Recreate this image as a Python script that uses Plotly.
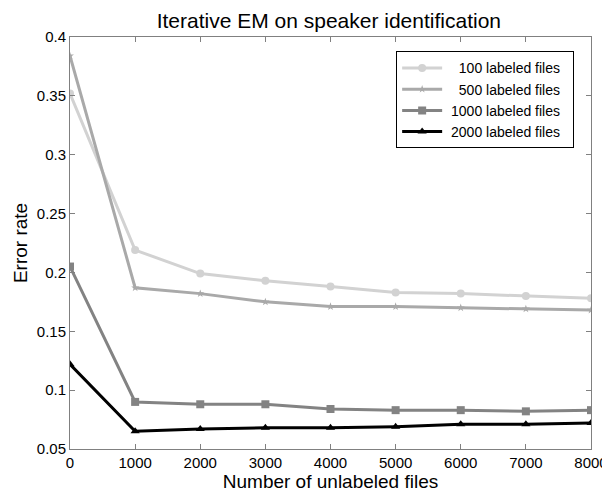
import plotly.graph_objects as go

x_unlabeled = [0, 1000, 2000, 3000, 4000, 5000, 6000, 7000, 8000]
err_100 = [0.352, 0.219, 0.199, 0.193, 0.188, 0.183, 0.182, 0.180, 0.178]
err_500 = [0.384, 0.187, 0.182, 0.175, 0.171, 0.171, 0.170, 0.169, 0.168]
err_1000 = [0.205, 0.090, 0.088, 0.088, 0.084, 0.083, 0.083, 0.082, 0.083]
err_2000 = [0.122, 0.065, 0.067, 0.068, 0.068, 0.069, 0.071, 0.071, 0.072]
series_names = ["   100 labeled files  ", "   500 labeled files  ", " 1000 labeled files  ", " 2000 labeled files  "]
y_ticks = [0.05, 0.1, 0.15, 0.2, 0.25, 0.3, 0.35, 0.4]
y_tick_text = ["0.05", "0.1", "0.15", "0.2", "0.25", "0.3", "0.35", "0.4"]
x_ticks = [0, 1000, 2000, 3000, 4000, 5000, 6000, 7000, 8000]

FONT = "Liberation Sans, Arial, sans-serif"

styles = [
    dict(color="#d2d2d2", symbol="circle", size=8),
    dict(color="#a9a9a9", symbol="star", size=6),
    dict(color="#838383", symbol="square", size=8),
    dict(color="#000000", symbol="triangle-up", size=8),
]

fig = go.Figure()
for name, ys, st in zip(series_names, [err_100, err_500, err_1000, err_2000], styles):
    fig.add_trace(go.Scatter(
        x=x_unlabeled, y=ys, name=name, mode="lines+markers",
        line=dict(color=st["color"], width=3),
        marker=dict(color=st["color"], symbol=st["symbol"], size=st["size"]),
    ))

axis_common = dict(
    showline=True, linecolor="#808080", linewidth=1, mirror="ticks",
    ticks="inside", ticklen=5, tickcolor="#808080",
    showgrid=False, zeroline=False, automargin=False,
    tickfont=dict(family=FONT, size=15, color="#000"),
)

# The page body has an 8px margin, so the figure is sized to fit in the window.
fig.update_layout(
    width=602, height=484,
    paper_bgcolor="white", plot_bgcolor="white",
    margin=dict(l=62, r=19, t=29, b=43),
    title=dict(text="Iterative EM on speaker identification", x=0.533, xanchor="center",
               y=0.99, yanchor="top", pad=dict(t=0, b=0),
               font=dict(family=FONT, size=21, color="#000")),
    xaxis=dict(range=[0, 8000], tickvals=x_ticks, ticktext=[str(v) for v in x_ticks],
               title=dict(text="Number of unlabeled files", standoff=2,
                          font=dict(family=FONT, size=19, color="#000")),
               **axis_common),
    yaxis=dict(range=[0.05, 0.4], tickvals=y_ticks, ticktext=y_tick_text,
               title=dict(text="Error rate", standoff=4,
                          font=dict(family=FONT, size=19, color="#000")),
               **axis_common),
    legend=dict(x=0.626, y=0.965, xanchor="left", yanchor="top",
                bgcolor="white", bordercolor="#000", borderwidth=1,
                font=dict(family=FONT, size=14, color="#000"),
                tracegroupgap=0, itemwidth=40),
    showlegend=True,
)

fig.write_html("out.html")
